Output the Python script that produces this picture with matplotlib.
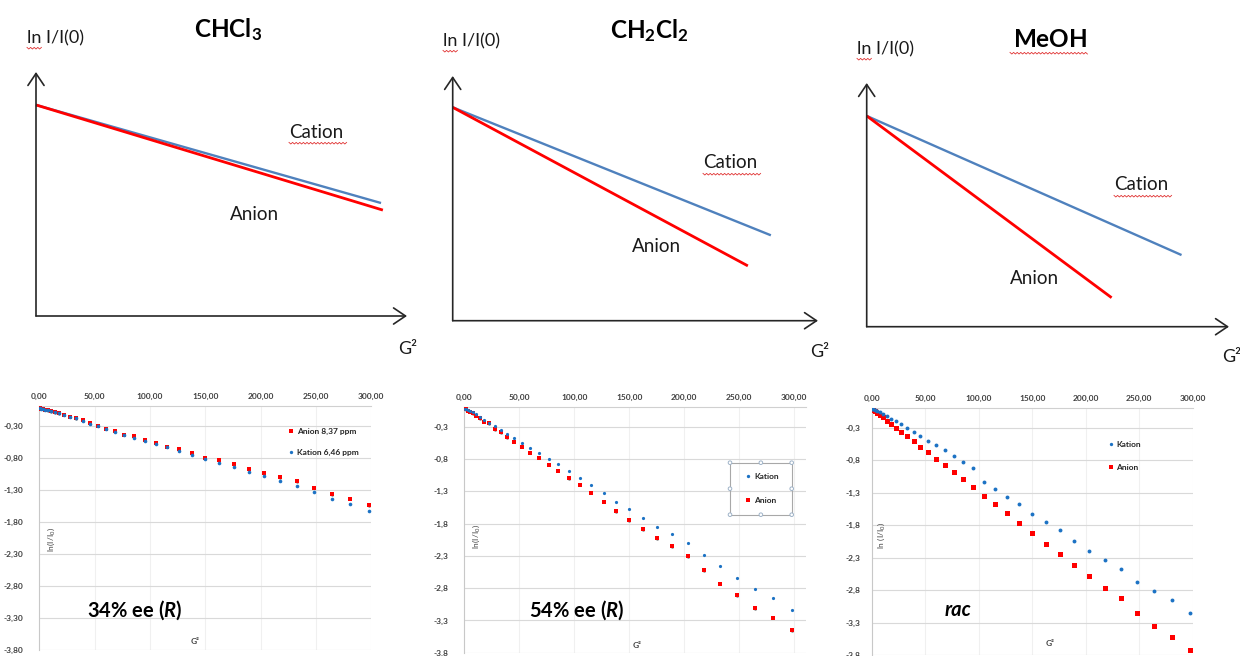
import matplotlib
matplotlib.use('Agg')
import matplotlib.pyplot as plt
from matplotlib.lines import Line2D
from matplotlib.patches import Rectangle, Circle

plt.rcParams['font.family'] = ['Lato', 'DejaVu Sans']
plt.rcParams['mathtext.fontset'] = 'custom'
plt.rcParams['mathtext.rm'] = 'Lato'
plt.rcParams['mathtext.bf'] = 'Lato:bold'
plt.rcParams['mathtext.it'] = 'Lato:italic'
plt.rcParams['mathtext.bfit'] = 'Lato:italic:bold'

W, H = 1240, 656

# schematic panels (top row), axis units 0..1 up to the arrow tips
solvents = [r'$\mathbf{CHCl}_\mathbf{3}$', r'$\mathbf{CH}_\mathbf{2}\mathbf{Cl}_\mathbf{2}$', r'$\mathbf{MeOH}$']
sketch_start_y = [0.865, 0.872, 0.865]
cation_end_x = [0.930, 0.871, 0.869]
cation_end_y = [0.463, 0.349, 0.294]
anion_end_x = [0.935, 0.808, 0.676]
anion_end_y = [0.434, 0.224, 0.119]

# measured panels (bottom row)
g2 = [0.6, 1.6, 3.1, 5.1, 7.6, 10.6, 14.1, 18.1, 22.6, 27.6, 33.1, 39.1, 45.6, 52.6,
      60.1, 68.1, 76.6, 85.6, 95.1, 105.1, 115.6, 126.6, 138.1, 150.1, 162.6, 175.6,
      189.1, 203.1, 217.6, 232.6, 248.1, 264.1, 280.6, 297.6]
anion_34 = [-0.03, -0.035, -0.04, -0.05, -0.06, -0.08, -0.09, -0.11, -0.13, -0.16, -0.19,
            -0.22, -0.26, -0.30, -0.35, -0.38, -0.44, -0.47, -0.52, -0.57, -0.63, -0.66,
            -0.73, -0.80, -0.84, -0.90, -0.97, -1.04, -1.11, -1.17, -1.27, -1.37, -1.44, -1.54]
kation_34 = [-0.03, -0.035, -0.04, -0.05, -0.06, -0.08, -0.09, -0.11, -0.13, -0.16, -0.19,
             -0.23, -0.27, -0.31, -0.36, -0.40, -0.45, -0.49, -0.54, -0.59, -0.64, -0.69,
             -0.76, -0.82, -0.89, -0.95, -1.02, -1.09, -1.16, -1.24, -1.34, -1.44, -1.53, -1.63]
kation_54 = [-0.02, -0.03, -0.04, -0.06, -0.08, -0.11, -0.15, -0.20, -0.24, -0.29, -0.35,
             -0.41, -0.47, -0.55, -0.63, -0.71, -0.80, -0.88, -0.98, -1.09, -1.20, -1.33,
             -1.47, -1.58, -1.72, -1.85, -1.96, -2.10, -2.29, -2.46, -2.65, -2.81, -2.95, -3.14]
anion_54 = [-0.02, -0.03, -0.05, -0.07, -0.09, -0.13, -0.17, -0.22, -0.25, -0.34, -0.39,
            -0.46, -0.53, -0.61, -0.70, -0.78, -0.89, -0.98, -1.10, -1.20, -1.32, -1.46,
            -1.61, -1.75, -1.89, -2.03, -2.15, -2.31, -2.52, -2.73, -2.91, -3.11, -3.26, -3.45]
kation_rac = [-0.01, -0.02, -0.03, -0.04, -0.06, -0.09, -0.12, -0.17, -0.20, -0.25, -0.30,
              -0.36, -0.43, -0.50, -0.57, -0.65, -0.74, -0.83, -0.92, -1.14, -1.24, -1.37,
              -1.48, -1.63, -1.75, -1.88, -2.04, -2.20, -2.33, -2.48, -2.67, -2.81, -2.96, -3.16]
anion_rac = [-0.02, -0.03, -0.05, -0.07, -0.11, -0.14, -0.19, -0.24, -0.30, -0.37, -0.43,
             -0.51, -0.59, -0.68, -0.78, -0.88, -0.98, -1.09, -1.22, -1.35, -1.48, -1.62,
             -1.76, -1.92, -2.09, -2.25, -2.41, -2.58, -2.77, -2.93, -3.16, -3.35, -3.52, -3.72]

x_ticks = [0, 50, 100, 150, 200, 250, 300]
y_ticks = [-0.3, -0.8, -1.3, -1.8, -2.3, -2.8, -3.3, -3.8]
samples = ['34% ee ($\\mathbfit{R}$)', '54% ee ($\\mathbfit{R}$)', 'rac']

RED = '#FF0000'
BLUE_LINE = '#4F81BD'
BLUE_DOT = '#1C72C4'

fig = plt.figure(figsize=(W / 100, H / 100), dpi=100, facecolor='white')


def px_axes(l, t, r, b):
    """ axes from pixel box (left, top, right, bottom) """
    return fig.add_axes([l / W, 1 - b / H, (r - l) / W, (b - t) / H])


# ---------- top row: schematic sketches ----------
top_boxes = [(36, 72, 407, 316), (452.7, 76, 818, 320.7), (866.7, 83, 1229, 326.7)]
arrow = dict(arrowstyle='->,head_length=0.86,head_width=0.58', color='#262626', lw=1.2,
             shrinkA=0, shrinkB=0)
for i, box in enumerate(top_boxes):
    ax = px_axes(*box)
    ax.set_xlim(0, 1)
    ax.set_ylim(0, 1)
    ax.axis('off')
    ax.annotate('', xy=(0, 1), xytext=(0, 0), arrowprops=arrow, annotation_clip=False)
    ax.annotate('', xy=(1, 0), xytext=(0, 0), arrowprops=arrow, annotation_clip=False)
    ax.plot([0, cation_end_x[i]], [sketch_start_y[i], cation_end_y[i]], color=BLUE_LINE,
            lw=1.7, solid_capstyle='butt', clip_on=False)
    ax.plot([0, anion_end_x[i]], [sketch_start_y[i], anion_end_y[i]], color=RED,
            lw=2.0, solid_capstyle='butt', clip_on=False)

# ---------- bottom row: measured data ----------
bottom_boxes = [(39.3, 406.3, 371.3, 650), (464.3, 407.3, 806, 652.7), (871.7, 408.2, 1192.7, 655)]
x_max = [300, 310.6, 300]
y_fmt = ['{:.2f}', '{:.1f}', '{:.1f}']
y_pad = [11.7, 11.7, 8]
series = [(kation_34, anion_34), (kation_54, anion_54), (kation_rac, anion_rac)]
red_ms = [3.0, 3.2, 3.6]
blue_ms = [2.6, 2.3, 2.8]
legend_anchor = [(288.5, 442), (745.8, 488.3), (1108.2, 456.3)]
legend_gap = [1.6, 2.0, 1.9]

for i, box in enumerate(bottom_boxes):
    ax = px_axes(*box)
    ax.set_facecolor('none')
    kat, ani = series[i]
    ax.errorbar(g2, ani, yerr=0.025, fmt='none', ecolor='#9A9A9A', elinewidth=0.6,
                capsize=1.0, capthick=0.6, zorder=2)
    ax.plot(g2, ani, 's', color=RED, ms=red_ms[i], mew=0, zorder=3)
    ax.plot(g2, kat, 'o', color=BLUE_DOT, ms=blue_ms[i], mew=0, zorder=4)
    ax.set_xlim(0, x_max[i])
    ax.set_ylim(-3.8, 0)
    ax.xaxis.tick_top()
    ax.set_xticks(x_ticks)
    ax.set_xticklabels([('%.2f' % v).replace('.', ',') for v in x_ticks])
    ax.set_yticks(y_ticks)
    ax.set_yticklabels([y_fmt[i].format(v).replace('.', ',') for v in y_ticks])
    ax.tick_params(axis='x', length=0, pad=4.5, labelsize=6, labelcolor='#404040')
    ax.tick_params(axis='y', length=0, pad=y_pad[i], labelsize=6, labelcolor='#404040')
    for lab in ax.get_xticklabels() + ax.get_yticklabels():
        lab.set_fontweight('bold')
    ax.grid(axis='y', color='#D9D9D9', lw=0.8)
    ax.grid(axis='x', color='#F0F0F0', lw=0.8)
    ax.set_axisbelow(True)
    for s in ['right', 'bottom']:
        ax.spines[s].set_visible(False)
    ax.spines['left'].set_color('#C8C8C8')
    ax.spines['top'].set_color('#D0D0D0')
    ax.spines['left'].set_linewidth(0.8)
    ax.spines['top'].set_linewidth(0.8)

    h_k = Line2D([], [], ls='none', marker='o', color=BLUE_DOT, ms=2.4, mew=0)
    h_a = Line2D([], [], ls='none', marker='s', color=RED, ms=2.8, mew=0)
    if i == 0:
        handles, labels = [h_a, h_k], ['Anion 8,37 ppm', 'Kation 6,46 ppm']
    else:
        handles, labels = [h_k, h_a], ['Kation', 'Anion']
    lx, ly = legend_anchor[i]
    leg = ax.legend(handles, labels, loc='center left', bbox_to_anchor=(lx / W, 1 - ly / H),
                    bbox_transform=fig.transFigure, frameon=False, fontsize=6,
                    handlelength=0.6, handletextpad=0.4, borderpad=0, borderaxespad=0,
                    labelspacing=legend_gap[i])
    for t in leg.get_texts():
        t.set_fontweight('bold')
        t.set_color('#262626')

# ---------- overlay in pixel coordinates for free text ----------
ov = fig.add_axes([0, 0, 1, 1], zorder=10)
ov.set_xlim(0, W)
ov.set_ylim(H, 0)
ov.axis('off')
ov.patch.set_alpha(0)


def squiggle(x0, x1, y):
    xs, ys = [], []
    k = 0
    x = x0
    while x <= x1:
        xs.append(x)
        ys.append(y + (1.0 if k % 2 else -0.6))
        x += 1.8
        k += 1
    ov.plot(xs, ys, color='#E03030', lw=0.6)


TXT = '#1a1a1a'
# top row texts
ylab_pos = [(27, 38), (443, 41), (857, 49)]
title_pos = [(228, 30), (649, 31), (1050, 40)]
cation_pos = [(316, 132), (730, 163), (1141, 185)]
anion_pos = [(254, 214), (657, 246), (1035, 279)]
g2_pos = [(408, 349), (820, 352), (1232, 357)]
for i in range(3):
    ov.text(*ylab_pos[i], 'ln I/I(0)', fontsize=13, color=TXT, ha='left', va='center')
    ov.text(*title_pos[i], solvents[i], fontsize=17.5, color='black', ha='center', va='center')
    ov.text(*cation_pos[i], 'Cation', fontsize=13.5, color=TXT, ha='center', va='center')
    ov.text(*anion_pos[i], 'Anion', fontsize=13.5, color=TXT, ha='center', va='center')
    ov.text(*g2_pos[i], 'G²', fontsize=13, color=TXT, ha='center', va='center')
    squiggle(ylab_pos[i][0], ylab_pos[i][0] + 16, ylab_pos[i][1] + 10)
    squiggle(cation_pos[i][0] - 27, cation_pos[i][0] + 31, cation_pos[i][1] + 11)
squiggle(1010, 1088, 53)

# bottom row texts
ylab2_pos = [(51, 540), (476, 537), (881, 535)]
ylab2_txt = [r'ln(I/I$_0$)', r'ln(I/I$_0$)', r'ln (I/I$_0$)']
xlab2_pos = [(195, 641), (637, 646), (1050, 643)]
sample_pos = [(135, 610), (577, 610), (958, 610)]
for i in range(3):
    ov.text(*ylab2_pos[i], ylab2_txt[i], fontsize=6, color='#404040', rotation=90,
            ha='center', va='center')
    ov.text(*xlab2_pos[i], 'G²', fontsize=6, color='#404040', fontweight='bold',
            ha='center', va='center')
    if i < 2:
        ov.text(*sample_pos[i], samples[i], fontsize=14.5, color='black', fontweight='bold',
                ha='center', va='center')
    else:
        ov.text(*sample_pos[i], samples[i], fontsize=14.5, color='black', style='italic',
                fontweight='bold', ha='center', va='center')

# selected legend frame in the middle panel
ov.add_patch(Rectangle((730, 462.7), 61.7, 52, fill=False, ec='#A8A8A8', lw=0.8))
for hx in (730, 760.85, 791.7):
    for hy in (462.7, 488.7, 514.7):
        if hx == 760.85 and hy == 488.7:
            continue
        ov.add_patch(Circle((hx, hy), 1.8, fc='white', ec='#9FB3C8', lw=0.7))

fig.savefig('out.png', dpi=100, facecolor='white')
